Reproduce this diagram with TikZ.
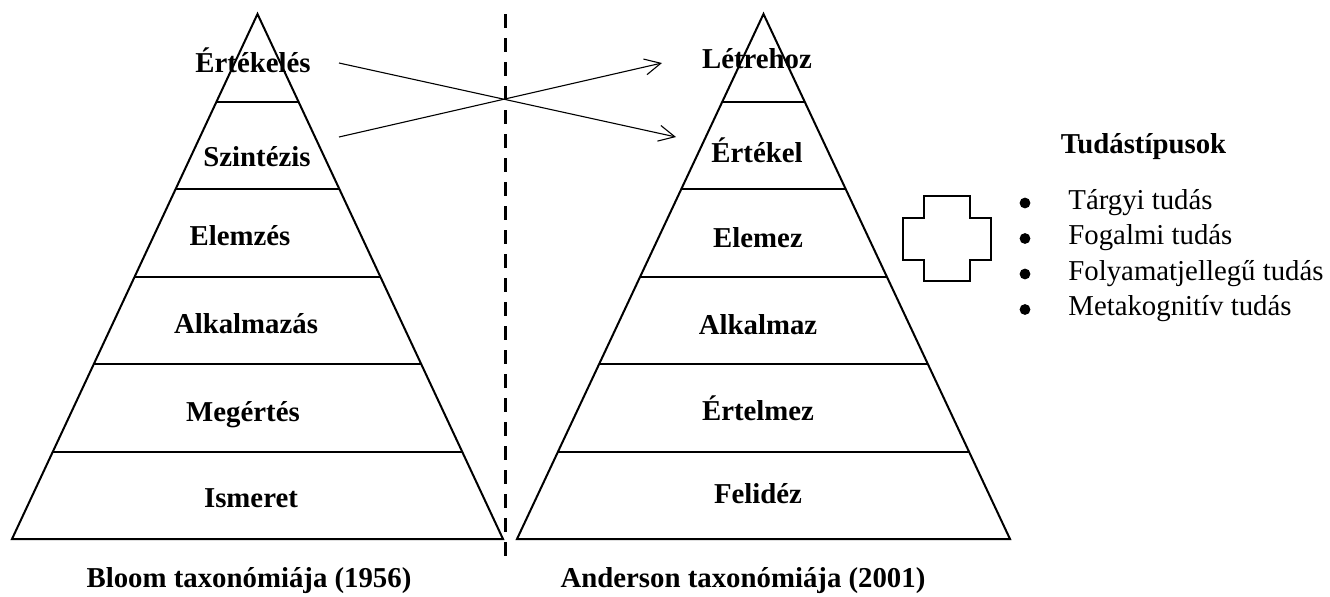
\documentclass[tikz,border=0pt]{standalone}
\usepackage{fontspec}
\setmainfont{Liberation Serif}
\usetikzlibrary{arrows.meta,calc}

\begin{document}
\begin{tikzpicture}[x=0.5pt,y=-0.5pt,
  outline/.style={line width=1pt,line join=miter},
  lvl/.style={font=\fontsize{14.4}{17}\selectfont\bfseries,anchor=base,inner sep=0},
  plain/.style={font=\fontsize{14.4}{17}\selectfont,anchor=base west,inner sep=0},
  dot/.style={circle,fill=black,inner sep=0,minimum size=5.4pt},
  cross/.style={line width=0.55pt,-{Straight Barb[length=8pt,width=8pt,line width=0.55pt]}},
  divider/.style={line width=1.5pt,dash pattern=on 7pt off 5pt}
]
\useasboundingbox (0,0) rectangle (1330,596);

% ---- Bloom pyramid ----
\coordinate (BA) at (257.5,14);
\coordinate (BL) at (12,539);
\coordinate (BR) at (503,539);
\draw[outline] (BA) -- (BL) -- (BR) -- cycle;
\foreach \k in {1,...,5}
  \draw[outline] ($(BA)!\k/6!(BL)$) -- ($(BA)!\k/6!(BR)$);

\node[lvl] (b6) at (253,72)  {Értékelés};
\node[lvl] (b5) at (257,166) {Szintézis};
\node[lvl] (b4) at (240,245) {Elemzés};
\node[lvl] (b3) at (246,333) {Alkalmazás};
\node[lvl] (b2) at (243,421) {Megértés};
\node[lvl] (b1) at (251,507) {Ismeret};

% ---- Anderson pyramid ----
\coordinate (AA) at (763.5,14);
\coordinate (AL) at (517,539);
\coordinate (AR) at (1010,539);
\draw[outline] (AA) -- (AL) -- (AR) -- cycle;
\foreach \k in {1,...,5}
  \draw[outline] ($(AA)!\k/6!(AL)$) -- ($(AA)!\k/6!(AR)$);

\node[lvl] (a6) at (757,68)  {Létrehoz};
\node[lvl] (a5) at (757,162) {Értékel};
\node[lvl] (a4) at (758,247) {Elemez};
\node[lvl] (a3) at (758,334) {Alkalmaz};
\node[lvl] (a2) at (758,420) {Értelmez};
\node[lvl] (a1) at (758,503) {Felidéz};

% ---- captions ----
\node[lvl] (capB) at (249,587) {Bloom taxonómiája (1956)};
\node[lvl] (capA) at (743,587) {Anderson taxonómiája (2001)};

% ---- dividing line ----
\coordinate (dTop) at (505,14);
\coordinate (dBot) at (505,560);
\draw[divider] (dTop) -- (dBot);

% ---- crossing arrows ----
\coordinate (s6) at (339,63);
\coordinate (s5) at (339,137);
\coordinate (t5) at (676,137);
\coordinate (t6) at (662,63);
\draw[cross] (s6) -- (t5);
\draw[cross] (s5) -- (t6);

% ---- plus sign ----
\draw[outline]
  (924,196) -- (970,196) -- (970,218) -- (991,218) -- (991,260) -- (970,260)
  -- (970,281) -- (924,281) -- (924,260) -- (903,260) -- (903,218) -- (924,218) -- cycle;

% ---- knowledge types ----
\node[lvl] (kt) at (1143.5,153) {Tudástípusok};
\foreach \y/\t/\n in {209/Tárgyi tudás/k1, 244.5/Fogalmi tudás/k2,
                      280/Folyamatjellegű tudás/k3, 315.5/Metakognitív tudás/k4}{
  \node[dot] (\n b) at (1025,\y-6) {};
  \node[plain] (\n) at (1068,\y) {\t};
}
\end{tikzpicture}
\end{document}
